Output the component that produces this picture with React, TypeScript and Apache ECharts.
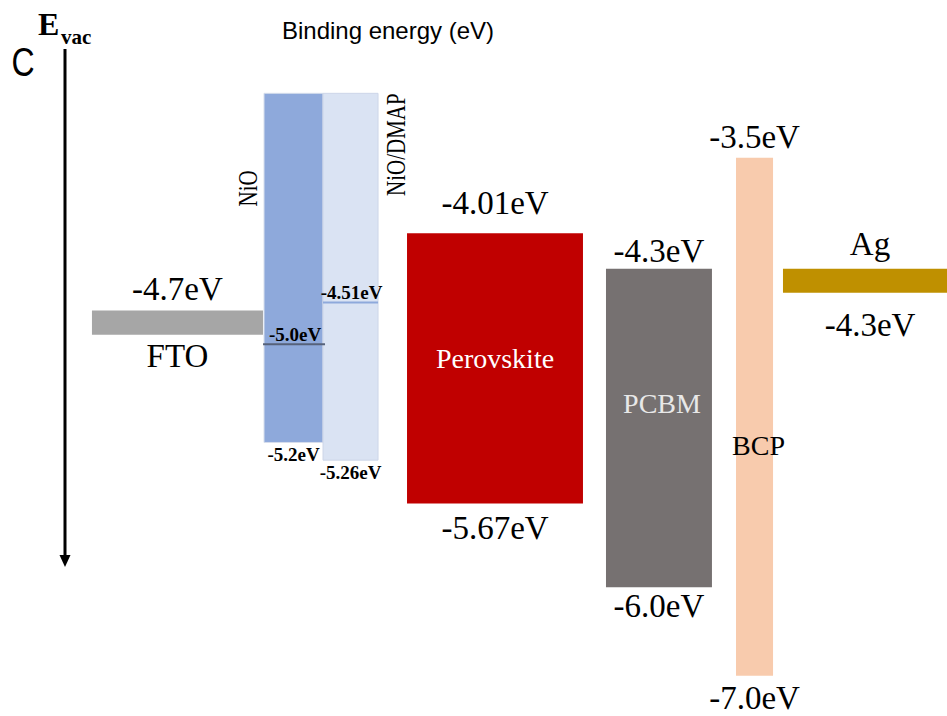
import React, { useEffect, useRef } from "react";
import * as echarts from "echarts";

// ---- data (drawn energy levels on the diagram's vertical scale, eV) ----
const layers = ["FTO", "NiO", "NiO/DMAP", "Perovskite", "PCBM", "BCP", "Ag"];
const xStart = [9.71, 27.88, 34.11, 42.98, 63.99, 77.72, 82.68];
const xEnd = [27.77, 34.11, 39.92, 61.56, 75.18, 81.63, 101.06];
const levelTop = [-4.48, -3.13, -3.13, -4.0, -4.22, -3.53, -4.22];
const levelBottom = [-4.63, -5.3, -5.41, -5.68, -6.2, -6.75, -4.37];
const topLabels = ["-4.7eV", "", "", "-4.01eV", "-4.3eV", "-3.5eV", "Ag"];
const bottomLabels = ["FTO", "-5.2eV", "-5.26eV", "-5.67eV", "-6.0eV", "-7.0eV", "-4.3eV"];
const innerLabels = ["", "", "", "Perovskite", "PCBM", "BCP", ""];
const sideLabels = ["", "NiO", "NiO/DMAP", "", "", "", ""];
const interfaceLayer = [1, 2];
const interfaceLevel = [-4.69, -4.43];
const interfaceLabels = ["-5.0eV", "-4.51eV"];
const titleText = "Binding energy (eV)";

// ---- styles ----
const SERIF = "'Liberation Serif', 'Times New Roman', serif";
const SANS = "'Liberation Sans', Arial, sans-serif";
const fills = ["#A6A6A6", "#8EA9DB", "#DAE3F3", "#C00000", "#767171", "#F8CBAD", "#BF9000"];
const strokes = ["none", "#D6DEEC", "#CDD6E8", "none", "none", "none", "none"];
const smallLabel = [false, true, true, false, false, false, false];
const gapTop = [22, 0, 0, 30, 18, 21, 25];
const gapBottom = [21, 12, 12, 24, 19, 22, 32];
const innerColor = ["#000", "#000", "#000", "#FFFFFF", "#E8E8E8", "#000000", "#000"];
const innerOffset: number[][] = [[0, 0], [0, 0], [0, 0], [0, -10], [3, -24], [4, 29], [0, 0]];
const interfaceColor = ["#56627A", "#8EA9DB"];

export default function App() {
  const ref = useRef<HTMLDivElement>(null);

  useEffect(() => {
    document.body.style.margin = "0";
    const chart = echarts.init(ref.current as HTMLDivElement, null, { renderer: "svg" });

    const layerData = layers.map((_, i) => [xStart[i], xEnd[i], levelTop[i], levelBottom[i], i]);
    const ifaceData = interfaceLayer.map((li, k) => [xStart[li], xEnd[li], interfaceLevel[k], k]);

    const option: any = {
      animation: false,
      backgroundColor: "#ffffff",
      grid: { left: 0, right: 0, top: 0, bottom: 0 },
      xAxis: { type: "value", min: 0, max: 100, show: false },
      yAxis: { type: "value", min: -7, max: -2.55, show: false },
      graphic: [
        {
          type: "text",
          x: 388,
          y: 30,
          style: { text: titleText, fill: "#000", fontFamily: SANS, fontSize: 24, align: "center", verticalAlign: "middle" },
        },
        {
          type: "text",
          x: 23,
          y: 62,
          scaleY: 1.28,
          style: { text: "C", fill: "#000", fontFamily: SANS, fontSize: 32, align: "center", verticalAlign: "middle" },
        },
        {
          type: "text",
          x: 38,
          y: 24,
          style: { text: "E", fill: "#000", fontFamily: SERIF, fontSize: 32, fontWeight: "bold", align: "left", verticalAlign: "middle" },
        },
        {
          type: "text",
          x: 61,
          y: 37,
          style: { text: "vac", fill: "#000", fontFamily: SERIF, fontSize: 21, fontWeight: "bold", align: "left", verticalAlign: "middle" },
        },
        {
          type: "line",
          shape: { x1: 65, y1: 49, x2: 65, y2: 558 },
          style: { stroke: "#000", lineWidth: 3 },
        },
        {
          type: "polygon",
          shape: { points: [[59.5, 555], [70.5, 555], [65, 567]] },
          style: { fill: "#000" },
        },
      ],
      series: [
        {
          type: "custom",
          name: "layers",
          data: layerData,
          renderItem: (_params: any, api: any) => {
            const i = api.value(4);
            const p0 = api.coord([api.value(0), api.value(2)]);
            const p1 = api.coord([api.value(1), api.value(3)]);
            const x0 = p0[0], y0 = p0[1], x1 = p1[0], y1 = p1[1];
            const cx = (x0 + x1) / 2;
            const cy = (y0 + y1) / 2;
            const children: any[] = [
              {
                type: "rect",
                shape: { x: x0, y: y0, width: x1 - x0, height: y1 - y0 },
                style: { fill: fills[i], stroke: strokes[i], lineWidth: 1 },
              },
            ];
            const small = smallLabel[i];
            const lblFont = small
              ? { fontFamily: SERIF, fontSize: 19, fontWeight: "bold" }
              : { fontFamily: SERIF, fontSize: 33, fontWeight: "normal" };
            if (topLabels[i]) {
              children.push({
                type: "text",
                x: cx,
                y: y0 - gapTop[i],
                style: { text: topLabels[i], fill: "#000", ...lblFont, align: "center", verticalAlign: "middle" },
              });
            }
            if (bottomLabels[i]) {
              children.push({
                type: "text",
                x: cx,
                y: y1 + gapBottom[i],
                style: { text: bottomLabels[i], fill: "#000", ...lblFont, align: "center", verticalAlign: "middle" },
              });
            }
            if (innerLabels[i]) {
              children.push({
                type: "text",
                x: cx + innerOffset[i][0],
                y: cy + innerOffset[i][1],
                style: {
                  text: innerLabels[i],
                  fill: innerColor[i],
                  fontFamily: SERIF,
                  fontSize: 28,
                  align: "center",
                  verticalAlign: "middle",
                },
              });
            }
            if (sideLabels[i]) {
              const left = i === 1;
              children.push({
                type: "text",
                x: left ? x0 - 15.5 : x1 + 18,
                y: left ? y0 + 77 : y0,
                rotation: Math.PI / 2,
                scaleY: 1.25,
                style: {
                  text: sideLabels[i],
                  fill: "#000",
                  fontFamily: SERIF,
                  fontSize: 21,
                  align: "right",
                  verticalAlign: "middle",
                },
              });
            }
            return { type: "group", children };
          },
        },
        {
          type: "custom",
          name: "interfaces",
          data: ifaceData,
          z: 3,
          renderItem: (_params: any, api: any) => {
            const k = api.value(3);
            const p0 = api.coord([api.value(0), api.value(2)]);
            const p1 = api.coord([api.value(1), api.value(2)]);
            const xa = p0[0] - (k === 0 ? 1 : 0);
            const xb = p1[0] + (k === 0 ? 2 : 0);
            return {
              type: "group",
              children: [
                {
                  type: "line",
                  shape: { x1: xa, y1: p0[1], x2: xb, y2: p0[1] },
                  style: { stroke: interfaceColor[k], lineWidth: 2 },
                },
                {
                  type: "text",
                  x: (xa + xb) / 2 + 1,
                  y: p0[1] - 10,
                  style: {
                    text: interfaceLabels[k],
                    fill: "#000",
                    fontFamily: SERIF,
                    fontSize: 19,
                    fontWeight: "bold",
                    align: "center",
                    verticalAlign: "middle",
                  },
                },
              ],
            };
          },
        },
      ],
    };

    chart.setOption(option);
    return () => {
      chart.dispose();
    };
  }, []);

  return (
    <div
      ref={ref}
      style={{ position: "fixed", left: 0, top: 0, width: 947, height: 716, background: "#fff" }}
    />
  );
}
